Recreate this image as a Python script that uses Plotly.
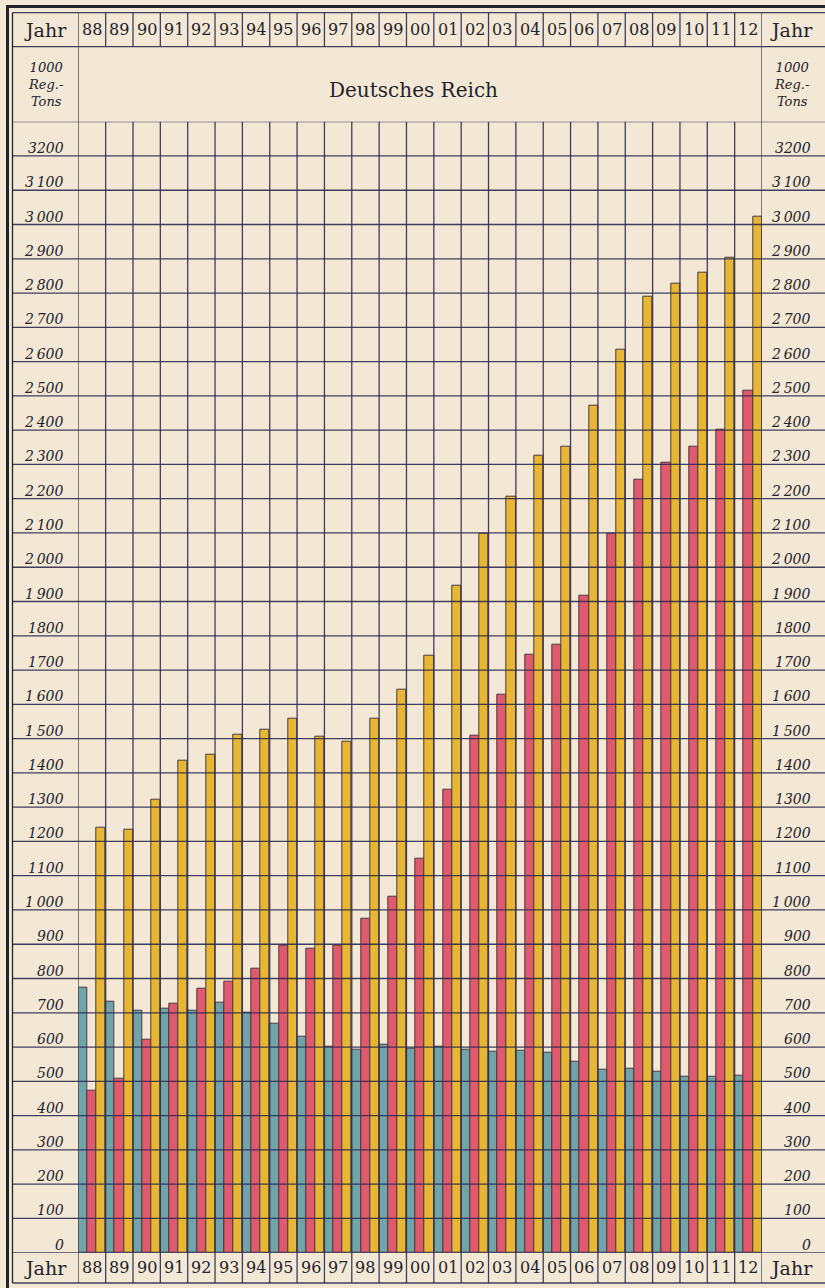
import plotly.graph_objects as go

# ---------------- data (1000 Reg.-Tons) ----------------
years = ["88", "89", "90", "91", "92", "93", "94", "95", "96", "97", "98", "99", "00",
         "01", "02", "03", "04", "05", "06", "07", "08", "09", "10", "11", "12"]
segelschiffe = [773, 733, 705, 713, 707, 728, 700, 667, 629, 602, 593, 607, 594,
                600, 593, 586, 588, 584, 558, 535, 537, 527, 514, 514, 517]
dampfschiffe = [474, 507, 621, 727, 771, 791, 830, 897, 886, 895, 975, 1040, 1151,
                1350, 1509, 1628, 1745, 1774, 1918, 2099, 2256, 2305, 2351, 2400, 2516]
zusammen = [1240, 1235, 1322, 1437, 1452, 1512, 1527, 1558, 1505, 1491, 1558, 1644, 1741,
            1946, 2097, 2205, 2325, 2353, 2472, 2634, 2789, 2827, 2859, 2903, 3024]

y_tick_values = list(range(0, 3300, 100))
T = "\u2009"
y_tick_labels = ["0", "100", "200", "300", "400", "500", "600", "700", "800", "900",
                 "1" + T + "000", "1100", "1200", "1300", "1400", "1" + T + "500", "1" + T + "600",
                 "1700", "1800", "1" + T + "900", "2" + T + "000", "2" + T + "100", "2" + T + "200",
                 "2" + T + "300", "2" + T + "400", "2" + T + "500", "2" + T + "600", "2" + T + "700",
                 "2" + T + "800", "2" + T + "900", "3" + T + "000", "3" + T + "100", "3200"]
y_max = 3300

# ---------------- style ----------------
W, H = 825, 1288
BG = "#f2e8d5"
TEAL = "#6fa4a9"
RED = "#e05a6d"
YELLOW = "#e7b632"
EDGE = "#4a3a44"
GRID = "rgba(48,42,78,0.9)"
INK = "#26222c"
SERIF = "DejaVu Serif"

X0, X1 = 78.3, 762.0          # plot area left / right (px)
Y_TOP, Y_BOT = 121.7, 1252.7  # plot area top / bottom (px)
HDR_TOP, HDR_BOT = 12.7, 46.7
FTR_BOT = 1283.0
INNER_L = 12.5


def px(xp):
    return xp / W


def py(yp):
    return 1 - yp / H


fig = go.Figure()
for name, vals, col in [("Segelschiffe", segelschiffe, TEAL),
                        ("Dampfschiffe", dampfschiffe, RED),
                        ("Zusammen", zusammen, YELLOW)]:
    fig.add_trace(go.Bar(x=years, y=vals, name=name,
                         marker=dict(color=col, line=dict(color=EDGE, width=1))))

shapes = []
line_style = dict(color=GRID, width=1.3)
# horizontal grid lines (span the label columns too)
for v in y_tick_values + [y_max]:
    shapes.append(dict(type="line", xref="paper", yref="y", x0=px(INNER_L), x1=1,
                       y0=v, y1=v, line=line_style, layer="above"))
# vertical column boundaries inside the plot
n = len(years)
for i in range(n + 1):
    xb = i - 0.5
    shapes.append(dict(type="line", xref="x", yref="y", x0=xb, x1=xb, y0=0, y1=y_max,
                       line=line_style, layer="above"))
    shapes.append(dict(type="line", xref="x", yref="paper", x0=xb, x1=xb,
                       y0=py(HDR_BOT), y1=py(HDR_TOP), line=line_style, layer="above"))
    shapes.append(dict(type="line", xref="x", yref="paper", x0=xb, x1=xb,
                       y0=py(FTR_BOT), y1=py(Y_BOT), line=line_style, layer="above"))
# separators through the title row
for xb in (-0.5, n - 0.5):
    shapes.append(dict(type="line", xref="x", yref="paper", x0=xb, x1=xb,
                       y0=py(Y_TOP), y1=py(HDR_BOT), line=line_style, layer="above"))
# table horizontal rules
for yp in (HDR_TOP, HDR_BOT, FTR_BOT):
    shapes.append(dict(type="line", xref="paper", yref="paper", x0=px(INNER_L), x1=1,
                       y0=py(yp), y1=py(yp), line=line_style, layer="above"))
# inner thin frame on the left
shapes.append(dict(type="line", xref="paper", yref="paper", x0=px(INNER_L), x1=px(INNER_L),
                   y0=py(FTR_BOT), y1=py(HDR_TOP), line=dict(color=INK, width=1.3), layer="above"))
# outer thick frame
shapes.append(dict(type="line", xref="paper", yref="paper", x0=px(7.5), x1=px(7.5),
                   y0=0, y1=py(5), line=dict(color=INK, width=3), layer="above"))
shapes.append(dict(type="line", xref="paper", yref="paper", x0=px(6), x1=1,
                   y0=py(6.5), y1=py(6.5), line=dict(color=INK, width=3), layer="above"))

annotations = []
# year labels in header and footer (category index positions)
for i, yr in enumerate(years):
    for yc in (29.7, 1267.5):
        annotations.append(dict(xref="x", yref="paper", x=i, y=py(yc), text=yr,
                                showarrow=False, xanchor="center", yanchor="middle",
                                font=dict(family=SERIF, size=16, color=INK)))
# "Jahr" cells
for xc in (45.5, 791.5):
    for yc in (29.7, 1267.5):
        annotations.append(dict(xref="paper", yref="paper", x=px(xc), y=py(yc), text="Jahr",
                                showarrow=False, xanchor="center", yanchor="middle",
                                font=dict(family=SERIF, size=19, color=INK)))
    annotations.append(dict(xref="paper", yref="paper", x=px(xc), y=py(84.5),
                            text="<i>1000<br>Reg.-<br>Tons</i>", showarrow=False,
                            xanchor="center", yanchor="middle", align="center",
                            font=dict(family=SERIF, size=13, color=INK)))
# title
annotations.append(dict(xref="paper", yref="paper", x=px(413), y=py(90), text="Deutsches Reich",
                        showarrow=False, xanchor="center", yanchor="middle",
                        font=dict(family=SERIF, size=20, color=INK)))
# value labels on both sides, sitting on their grid lines
for v, lab in zip(y_tick_values, y_tick_labels):
    for xr in (66, 813):
        annotations.append(dict(xref="paper", yref="y", x=px(xr), y=v, text="<i>" + lab + "</i>",
                                showarrow=False, xanchor="right", yanchor="bottom", yshift=-2,
                                font=dict(family=SERIF, size=14, color=INK)))

fig.update_layout(
    width=W, height=H, margin=dict(l=0, r=0, t=0, b=0),
    barmode="group", bargap=0, bargroupgap=0, showlegend=False,
    paper_bgcolor=BG, plot_bgcolor=BG,
    xaxis=dict(domain=[px(X0), px(X1)], type="category", range=[-0.5, n - 0.5],
               showgrid=False, showticklabels=False, zeroline=False, showline=False, ticks=""),
    yaxis=dict(domain=[py(Y_BOT), py(Y_TOP)], range=[0, y_max], showgrid=False,
               showticklabels=False, zeroline=False, showline=False, ticks=""),
    shapes=shapes, annotations=annotations,
)

fig.write_html("out.html",
               config={"displayModeBar": False},
               post_script="document.body.style.margin='0';"
                           "document.body.style.overflow='hidden';"
                           "document.body.style.background='" + BG + "';")
